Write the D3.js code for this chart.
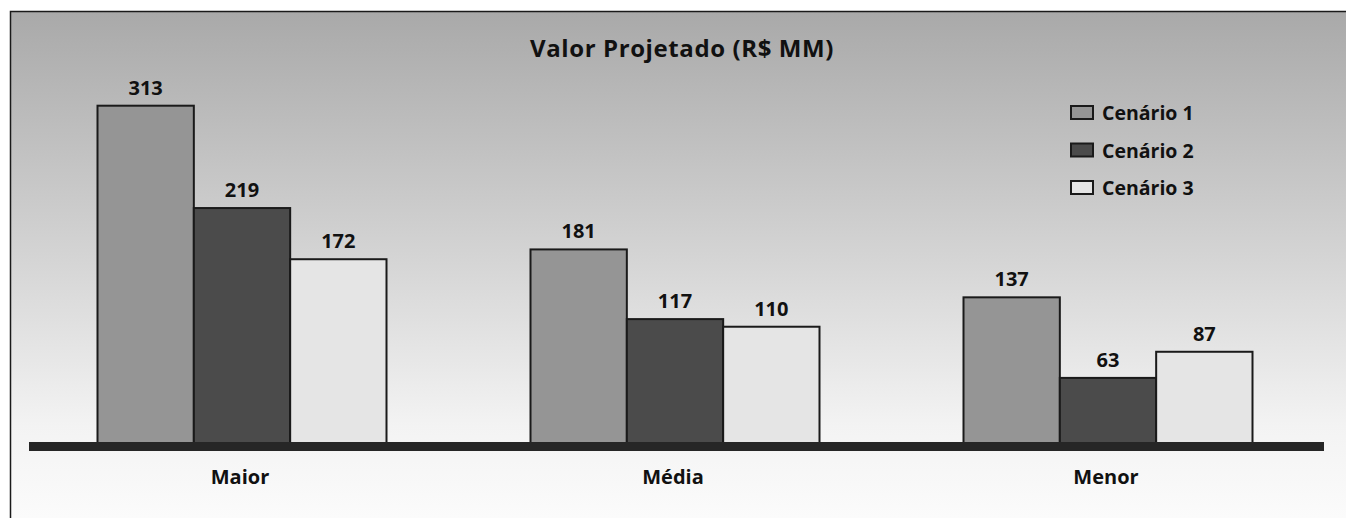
<!DOCTYPE html>
<html>
<head>
<meta charset="utf-8">
<script src="https://cdn.jsdelivr.net/npm/d3@7"></script>
<style>
  html, body { margin: 0; padding: 0; background: #fff; }
  svg { display: block; font-family: "Open Sans", "Noto Sans", sans-serif; }
</style>
</head>
<body>
<div id="maincontainer"></div>
<script>
var categories = ["Maior", "Média", "Menor"];
var seriesNames = ["Cenário 1", "Cenário 2", "Cenário 3"];
var cenario1 = [313, 181, 137];
var cenario2 = [219, 117, 63];
var cenario3 = [172, 110, 87];
var seriesColors = ["#959595", "#4b4b4b", "#e5e5e5"];
var titleText = "Valor Projetado (R$ MM)";

var width = 1346, height = 518;

var svg = d3.select("#maincontainer")
    .append("svg")
    .attr("width", width)
    .attr("height", height);

// background gradient
var grad = svg.append("defs").append("linearGradient")
    .attr("id", "bg")
    .attr("x1", 0).attr("y1", 0).attr("x2", 0).attr("y2", 1);
grad.append("stop").attr("offset", "0%").attr("stop-color", "#a9a9a9");
grad.append("stop").attr("offset", "45%").attr("stop-color", "#d2d2d2");
grad.append("stop").attr("offset", "80%").attr("stop-color", "#f3f3f3");
grad.append("stop").attr("offset", "100%").attr("stop-color", "#fcfcfc");

svg.append("rect")
    .attr("x", 10.5).attr("y", 11.5)
    .attr("width", width).attr("height", height)
    .attr("fill", "url(#bg)")
    .attr("stroke", "#1a1a1a")
    .attr("stroke-width", 1.5);

var rows = categories.map(function(c, i) {
    return { cat: c, values: [cenario1[i], cenario2[i], cenario3[i]] };
});

var x0 = d3.scaleBand().domain(categories).range([25.5, 1324.5]);
var groupW = 289;
var x1 = d3.scaleBand().domain(seriesNames)
    .range([(x0.bandwidth() - groupW) / 2, (x0.bandwidth() + groupW) / 2]);
var y = d3.scaleLinear().domain([0, 313]).range([446.5, 105.7]);
var color = d3.scaleOrdinal().domain(seriesNames).range(seriesColors);

// title
svg.append("text")
    .attr("x", 682).attr("y", 57)
    .attr("text-anchor", "middle")
    .attr("font-size", 24)
    .attr("letter-spacing", 0.6)
    .attr("font-weight", "bold")
    .attr("fill", "#111")
    .text(titleText);

// bars
var group = svg.selectAll("g.grp")
    .data(rows)
    .enter().append("g")
    .attr("class", "grp")
    .attr("transform", function(d) { return "translate(" + x0(d.cat) + ",0)"; });

group.selectAll("rect")
    .data(function(d) {
        return d.values.map(function(v, i) { return { name: seriesNames[i], value: v }; });
    })
    .enter().append("rect")
    .attr("x", function(d) { return x1(d.name); })
    .attr("y", function(d) { return y(d.value); })
    .attr("width", x1.bandwidth())
    .attr("height", function(d) { return 443 - y(d.value); })
    .attr("fill", function(d) { return color(d.name); })
    .attr("stroke", "#1a1a1a")
    .attr("stroke-width", 2);

group.selectAll("text.val")
    .data(function(d) {
        return d.values.map(function(v, i) { return { name: seriesNames[i], value: v }; });
    })
    .enter().append("text")
    .attr("class", "val")
    .attr("x", function(d) { return x1(d.name) + x1.bandwidth() / 2; })
    .attr("y", function(d) { return y(d.value) - 11; })
    .attr("text-anchor", "middle")
    .attr("font-size", 20)
    .attr("font-weight", "bold")
    .attr("fill", "#111")
    .text(function(d) { return d.value; });

// baseline
svg.append("rect")
    .attr("x", 29).attr("y", 442)
    .attr("width", 1295).attr("height", 9)
    .attr("fill", "#262626");

// category labels
svg.selectAll("text.cat")
    .data(categories)
    .enter().append("text")
    .attr("class", "cat")
    .attr("x", function(d) { return x0(d) + x0.bandwidth() / 2 - 2; })
    .attr("y", 484)
    .attr("text-anchor", "middle")
    .attr("font-size", 20)
    .attr("font-weight", "bold")
    .attr("fill", "#111")
    .text(function(d) { return d; });

// legend
var legend = svg.selectAll("g.leg")
    .data(seriesNames)
    .enter().append("g")
    .attr("class", "leg")
    .attr("transform", function(d, i) { return "translate(1071," + (106 + i * 37.5) + ")"; });

legend.append("rect")
    .attr("width", 22).attr("height", 13)
    .attr("fill", function(d) { return color(d); })
    .attr("stroke", "#1a1a1a")
    .attr("stroke-width", 2);

legend.append("text")
    .attr("x", 31).attr("y", 14)
    .attr("font-size", 19.5)
    .attr("font-weight", "bold")
    .attr("fill", "#111")
    .text(function(d) { return d; });
</script>
</body>
</html>
